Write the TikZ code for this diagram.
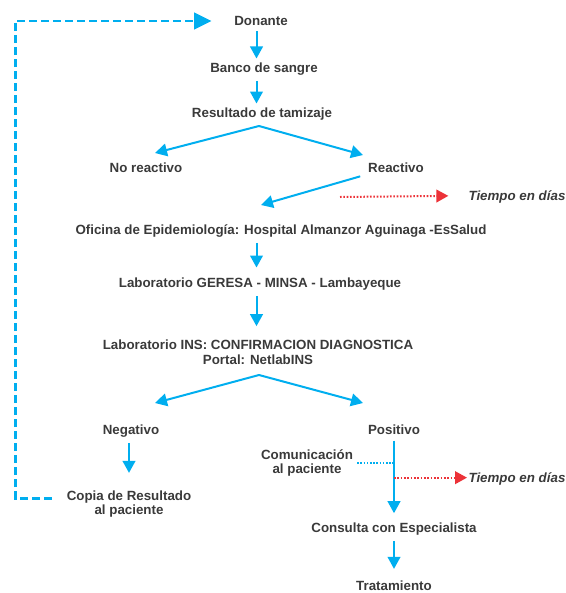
\documentclass[tikz,border=0pt]{standalone}
\usepackage{fontspec}
\setmainfont{Liberation Sans}
\usetikzlibrary{arrows.meta,calc}
\definecolor{FlowBlue}{RGB}{0,174,239}
\definecolor{TimeRed}{RGB}{236,50,56}
\definecolor{TextGray}{RGB}{58,58,58}

\begin{document}
\begin{tikzpicture}[x=0.75pt, y=-0.75pt, every node/.style={font=\bfseries\fontsize{10}{11}\selectfont, text=TextGray, align=center, inner sep=1pt}]
\tikzset{
  flow/.style={-{Triangle[length=9pt,width=9.5pt]}, line width=1.5pt, FlowBlue, shorten <=3pt, shorten >=2pt},
  fork/.style={-{Triangle[length=9pt,width=9.5pt]}, line width=1.5pt, FlowBlue},
  back/.style={-{Triangle[length=13pt,width=12.5pt]}, line width=2pt, FlowBlue, dash pattern=on 6pt off 3pt},
  note/.style={line width=1.5pt, FlowBlue, dash pattern=on 1.2pt off 1.2pt},
  timeline/.style={-{Triangle[length=9pt,width=9.5pt]}, line width=1.5pt, TimeRed, dash pattern=on 1.2pt off 1.3pt},
  tiempo/.style={font=\bfseries\itshape\fontsize{10}{11}\selectfont, anchor=west}
}
\useasboundingbox (0,0) rectangle (566,593);
  \node (don) at (261,21) {Donante};
  \node (banco) at (264,69) {Banco de sangre};
  \node (tamiz) at (262,114) {Resultado de tamizaje};
  \node (noreac) at (146,168) {No reactivo};
  \node (reac) at (396,168) {Reactivo};
  \node (ofi) at (281,231) {Oficina de Epidemiología: Hospital Almanzor Aguinaga -EsSalud};
  \node (geresa) at (260,284) {Laboratorio GERESA - MINSA - Lambayeque};
  \node (ins) at (258,352) {Laboratorio INS: CONFIRMACION DIAGNOSTICA\\Portal: NetlabINS};
  \node (neg) at (131,431) {Negativo};
  \node (pos) at (394,430) {Positivo};
  \node (copia) at (129,504) {Copia de Resultado\\al paciente};
  \node (comu) at (307,463) {Comunicación\\al paciente};
  \node (cons) at (394,529) {Consulta con Especialista};
  \node (trat) at (394,586) {Tratamiento};
  \node[tiempo] (t1) at (467,197) {Tiempo en días};
  \node[tiempo] (t2) at (467,479) {Tiempo en días};
  % main column
  \coordinate (axis) at (256.5,0);
  \draw[flow] (don.south -| axis) -- (banco.north -| axis);
  \draw[flow] (banco.south -| axis) -- (tamiz.north -| axis);
  \coordinate (fork1) at (259,126);
  \coordinate (noreac-in) at (155,153);
  \coordinate (reac-in) at (363,155);
  \draw[fork] (fork1) -- (noreac-in);
  \draw[fork] (fork1) -- (reac-in);
  \coordinate (ofi-in) at (261,205);
  \draw[fork, shorten <=5pt] (reac.south west) -- (ofi-in);
  \draw[flow, shorten >=6.5pt] (ofi.south -| axis) -- (geresa.north -| axis);
  \draw[flow, shorten >=9pt] (geresa.south -| axis) -- (ins.north -| axis);
  \coordinate (fork2) at (259,375);
  \coordinate (neg-in) at (155,403);
  \coordinate (pos-in) at (363,403);
  \draw[fork] (fork2) -- (neg-in);
  \draw[fork] (fork2) -- (pos-in);
  % results
  \draw[flow, shorten >=12pt] (neg.south -| copia.north) -- (copia.north);
  \draw[flow, shorten >=6pt] (pos.south) -- (cons.north);
  \draw[flow, shorten >=8pt] (cons.south) -- (trat.north);
  \draw[note, shorten <=2pt] (comu.east) -- (comu.east -| pos);
  \draw[timeline] ([yshift=1pt]t2.west -| pos) -- ([yshift=1pt]t2.west);
  \coordinate (t1start) at (340,197);
  \draw[timeline, shorten >=14pt] (t1start) -- ([yshift=1pt]t1.west);
  % return to donor
  \coordinate (left) at (15.5,0);
  \draw[back, shorten <=10pt, shorten >=16pt] ([yshift=4pt]copia.west) -| (left |- don.west) -- (don.west);
\end{tikzpicture}
\end{document}
